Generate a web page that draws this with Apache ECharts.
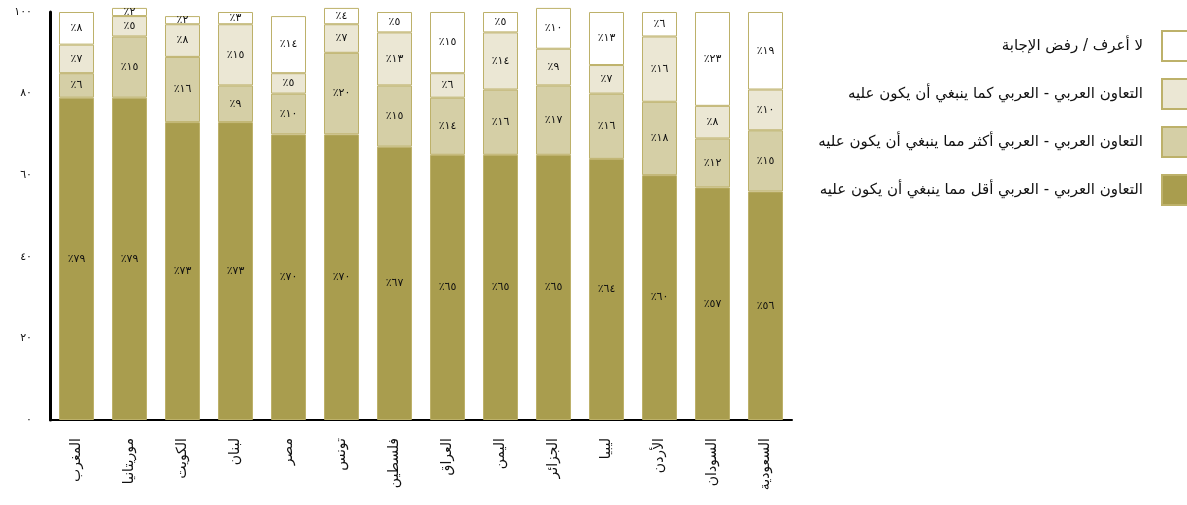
<!DOCTYPE html>
<html>
<head>
<meta charset="utf-8">
<script src="https://cdn.jsdelivr.net/npm/echarts@6/dist/echarts.min.js"></script>
<style>
  html, body { margin: 0; padding: 0; background: #fff; }
  #chart { width: 1187px; height: 505px; }
</style>
</head>
<body>
<div id="chart"></div>
<script>
// الدول من اليسار إلى اليمين
const countries = ['المغرب', 'موريتانيا', 'الكويت', 'لبنان', 'مصر', 'تونس', 'فلسطين', 'العراق', 'اليمن', 'الجزائر', 'ليبيا', 'الأردن', 'السودان', 'السعودية'];

const seriesNames = [
  'التعاون العربي - العربي أقل مما ينبغي أن يكون عليه',
  'التعاون العربي - العربي أكثر مما ينبغي أن يكون عليه',
  'التعاون العربي - العربي كما ينبغي أن يكون عليه',
  'لا أعرف / رفض الإجابة'
];

const lessThan = [79, 79, 73, 73, 70, 70, 67, 65, 65, 65, 64, 60, 57, 56];
const moreThan = [6, 15, 16, 9, 10, 20, 15, 14, 16, 17, 16, 18, 12, 15];
const asShould = [7, 5, 8, 15, 5, 7, 13, 6, 14, 9, 7, 16, 8, 10];
const dontKnow = [8, 2, 2, 3, 14, 4, 5, 15, 5, 10, 13, 6, 23, 19];

const yTicks = [0, 20, 40, 60, 80, 100];

const colors = ['#A99D4E', '#D5CFA6', '#EBE7D4', '#FFFFFF'];

// أرقام عربية هندية
function toArabic(n) {
  const d = '٠١٢٣٤٥٦٧٨٩';
  return String(n).replace(/[0-9]/g, c => d[+c]);
}

const font = "'DejaVu Sans', sans-serif";

function makeSeries(name, data, color) {
  return {
    name: name,
    type: 'bar',
    stack: 'total',
    barWidth: 35,
    clip: false,
    data: data,
    itemStyle: {
      color: color,
      borderColor: '#BDB16A',
      borderWidth: 1
    },
    label: {
      show: true,
      position: 'inside',
      color: '#111',
      fontFamily: font,
      fontSize: 11,
      formatter: p => '٪' + toArabic(p.value)
    }
  };
}

const chart = echarts.init(document.getElementById('chart'));
chart.setOption({
  animation: false,
  textStyle: { fontFamily: font },
  grid: { left: 50, right: 395, top: 12, bottom: 85 },
  legend: {
    orient: 'vertical',
    right: -9,
    top: 25,
    align: 'right',
    itemWidth: 28,
    itemHeight: 30,
    itemGap: 16,
    icon: 'rect',
    data: [seriesNames[3], seriesNames[2], seriesNames[1], seriesNames[0]],
    textStyle: {
      fontFamily: font,
      fontSize: 15,
      color: '#111',
      padding: [0, 14, 0, 0]
    }
  },
  xAxis: {
    type: 'category',
    data: countries,
    axisLine: { lineStyle: { color: '#000', width: 2 } },
    axisTick: { show: false },
    axisLabel: {
      interval: 0,
      rotate: 90,
      margin: 18,
      color: '#111',
      fontFamily: font,
      fontSize: 14
    }
  },
  yAxis: {
    type: 'value',
    min: 0,
    max: 100,
    interval: 20,
    axisLine: { show: true, lineStyle: { color: '#000', width: 3 } },
    axisTick: { show: false },
    splitLine: { show: false },
    axisLabel: {
      margin: 18,
      color: '#111',
      fontFamily: font,
      fontSize: 11,
      formatter: v => yTicks.includes(v) ? toArabic(v) : ''
    }
  },
  series: [
    makeSeries(seriesNames[0], lessThan, colors[0]),
    makeSeries(seriesNames[1], moreThan, colors[1]),
    makeSeries(seriesNames[2], asShould, colors[2]),
    makeSeries(seriesNames[3], dontKnow, colors[3])
  ]
});
</script>
</body>
</html>
